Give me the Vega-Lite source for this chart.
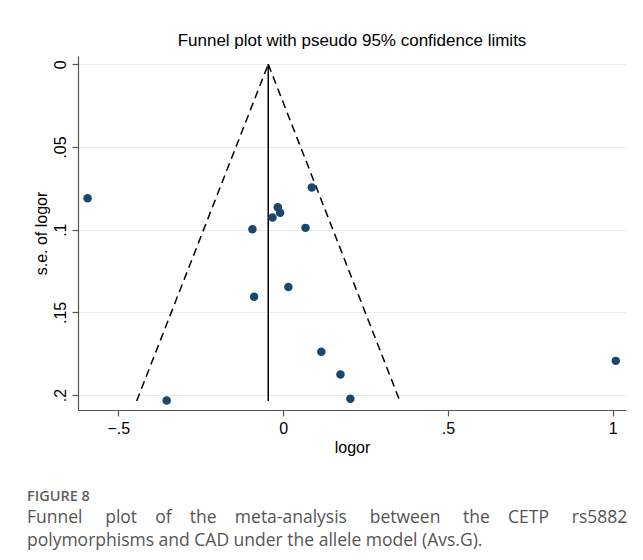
{
  "$schema": "https://vega.github.io/schema/vega-lite/v6.json",
  "background": "white",
  "padding": {"left": 27, "top": 32, "right": 5, "bottom": 5},
  "datasets": {
    "studies": [
      {"logor": -0.593, "se": 0.081},
      {"logor": 0.087, "se": 0.0745},
      {"logor": -0.016, "se": 0.0864},
      {"logor": -0.009, "se": 0.0898},
      {"logor": -0.032, "se": 0.0926},
      {"logor": -0.093, "se": 0.0997},
      {"logor": 0.068, "se": 0.0989},
      {"logor": 0.016, "se": 0.1347},
      {"logor": -0.088, "se": 0.1406},
      {"logor": 0.116, "se": 0.1738},
      {"logor": 0.174, "se": 0.1875},
      {"logor": 0.204, "se": 0.2022},
      {"logor": -0.353, "se": 0.2032},
      {"logor": 1.009, "se": 0.1793}
    ],
    "limits": [
      {"line": "lower", "logor": -0.045, "se": 0},
      {"line": "lower", "logor": -0.444, "se": 0.2035},
      {"line": "upper", "logor": -0.045, "se": 0},
      {"line": "upper", "logor": 0.354, "se": 0.2035}
    ],
    "center": [
      {"logor": -0.045, "se": 0},
      {"logor": -0.045, "se": 0.2035}
    ]
  },
  "title": {
    "text": "FIGURE 8",
    "subtitle": [
      "Funnel \u00a0\u00a0\u00a0\u00a0plot \u00a0\u00a0\u00a0of \u00a0\u00a0\u00a0the \u00a0\u00a0\u00a0meta-analysis \u00a0\u00a0\u00a0\u00a0between \u00a0\u00a0\u00a0\u00a0the \u00a0\u00a0\u00a0CETP \u00a0\u00a0\u00a0\u00a0rs5882",
      "polymorphisms and CAD under the allele model (Avs.G)."
    ],
    "orient": "bottom",
    "anchor": "start",
    "dx": -6,
    "offset": 35,
    "font": "Open Sans",
    "fontSize": 14.5,
    "fontWeight": 600,
    "color": "#5f5f5f",
    "subtitleFont": "Open Sans",
    "subtitleFontSize": 17.5,
    "subtitleColor": "#555555",
    "subtitleLineHeight": 23,
    "subtitlePadding": 4
  },
  "vconcat": [
    {
      "width": 548,
      "height": 354,
      "title": {
        "text": "Funnel plot with pseudo 95% confidence limits",
        "font": "Liberation Sans",
        "fontSize": 17,
        "fontWeight": "normal",
        "color": "#000000",
        "anchor": "middle",
        "offset": 6
      },
      "layer": [
        {
          "data": {"name": "limits"},
          "mark": {"type": "line", "color": "#000000", "strokeWidth": 1.5, "strokeDash": [8, 5]},
          "encoding": {
            "x": {"field": "logor", "type": "quantitative"},
            "y": {"field": "se", "type": "quantitative"},
            "detail": {"field": "line"}
          }
        },
        {
          "data": {"name": "center"},
          "mark": {"type": "line", "color": "#000000", "strokeWidth": 1.5},
          "encoding": {
            "x": {"field": "logor", "type": "quantitative"},
            "y": {"field": "se", "type": "quantitative"}
          }
        },
        {
          "data": {"name": "studies"},
          "mark": {"type": "circle", "color": "#1a476f", "opacity": 1, "size": 72},
          "encoding": {
            "x": {
              "field": "logor",
              "type": "quantitative",
              "scale": {"domain": [-0.622, 1.04], "nice": false, "zero": false},
              "axis": {
                "title": "logor",
                "values": [-0.5, 0, 0.5, 1],
                "grid": false,
                "labelExpr": "replace(format(datum.value, '~g'), '0.', '.')"
              }
            },
            "y": {
              "field": "se",
              "type": "quantitative",
              "scale": {"domain": [-0.005, 0.209], "nice": false, "zero": false, "reverse": true},
              "axis": {
                "title": "s.e. of logor",
                "values": [0, 0.05, 0.1, 0.15, 0.2],
                "grid": true,
                "labelAngle": -90,
                "labelAlign": "center",
                "labelBaseline": "bottom",
                "labelExpr": "replace(format(datum.value, '~g'), '0.', '.')"
              }
            }
          }
        }
      ]
    }
  ],
  "config": {
    "view": {"stroke": null},
    "axis": {
      "domainColor": "#555555",
      "tickColor": "#555555",
      "tickSize": 6,
      "labelFont": "Liberation Sans",
      "labelFontSize": 16,
      "labelColor": "#000000",
      "labelPadding": 4,
      "titleFont": "Liberation Sans",
      "titleFontSize": 16,
      "titleFontWeight": "normal",
      "titleColor": "#000000",
      "gridColor": "#e4eef2",
      "gridOpacity": 1,
      "domainWidth": 1.2,
      "tickWidth": 1.2
    },
    "axisX": {"titlePadding": 3},
    "axisY": {"titlePadding": 3}
  }
}
